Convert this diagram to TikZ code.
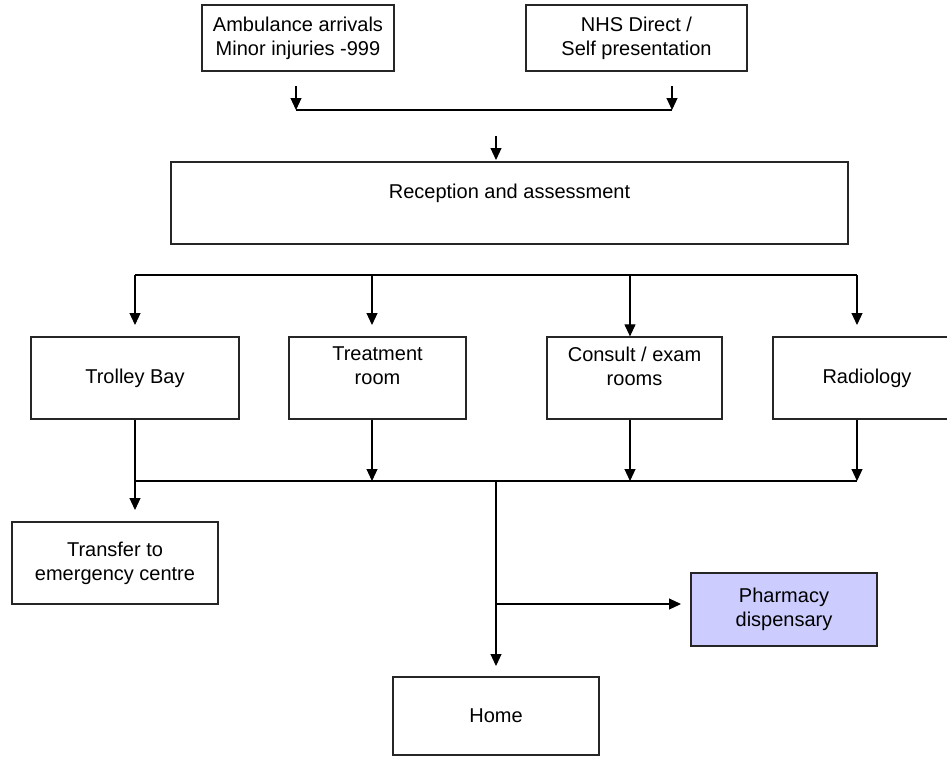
\documentclass[tikz,border=0pt]{standalone}
\usepackage{fontspec}
\setmainfont{Liberation Sans}
\usetikzlibrary{arrows.meta}
\definecolor{pharmfill}{HTML}{CCCCFF}
\begin{document}
\begin{tikzpicture}[x=1pt,y=-1pt,
  box/.style={draw=black!85, line width=1.25pt, align=center, inner sep=0pt,
    font=\fontsize{20}{24}\selectfont},
  conn/.style={draw=black, line width=1.05pt},
  arr/.style={conn, -{Triangle[length=12pt,width=11pt]}}]
\clip (0,0) rectangle (947,756);
\fill[white] (0,0) rectangle (947,756);

% boxes
\node[box, minimum width=192pt, minimum height=66pt] (amb) at (298,38) {Ambulance arrivals\\Minor injuries -999};
\node[box, minimum width=221pt, minimum height=66pt] (nhs) at (636.5,38) {NHS Direct /\\Self presentation};
\node[box, minimum width=677pt, minimum height=82pt] (rec) at (509.5,203) {Reception and assessment\\\mbox{}};
\node[box, minimum width=208pt, minimum height=82pt] (trol) at (135,378) {Trolley Bay};
\node[box, minimum width=177pt, minimum height=82pt] (treat) at (377.5,378) {Treatment\\room\\\mbox{}};
\node[box, minimum width=175pt, minimum height=82pt] (cons) at (634.5,378) {Consult / exam\\rooms\\\mbox{}};
\node[box, minimum width=188pt, minimum height=82pt] (rad) at (867,378) {Radiology};
\node[box, minimum width=206pt, minimum height=82pt] (trans) at (115,563) {Transfer to\\emergency centre};
\node[box, fill=pharmfill, minimum width=186pt, minimum height=73pt] (pharm) at (784,609.5) {Pharmacy\\dispensary};
\node[box, minimum width=206pt, minimum height=78pt] (home) at (496,716) {Home};

% junction coordinates
\coordinate (a1) at (296,86);  \coordinate (a2) at (296,110);
\coordinate (b1) at (672,86);  \coordinate (b2) at (672,110);
\coordinate (c1) at (496,136); \coordinate (c2) at (496,160);
\coordinate (t1) at (135,275); \coordinate (t2) at (372,275);
\coordinate (t3) at (630,275); \coordinate (t4) at (857,275);
\coordinate (u1) at (135,325); \coordinate (u2) at (372,325);
\coordinate (u4) at (857,325);
\coordinate (m1) at (135,481); \coordinate (m2) at (372,481);
\coordinate (m3) at (630,481); \coordinate (m4) at (857,481);
\coordinate (m0) at (496,481);
\coordinate (tt) at (135,510);
\coordinate (p)  at (496,604); \coordinate (ph) at (681,604);
\coordinate (hh) at (496,666);

% top inputs
\draw[arr] (a1) -- (a2);
\draw[arr] (b1) -- (b2);
\draw[conn] (a2) -- (b2);
\draw[arr] (c1) -- (c2);

% distribution bus
\draw[conn] (t1) -- (t4);
\draw[arr] (t1) -- (u1);
\draw[arr] (t2) -- (u2);
\draw[arr] (t3) -- (t3 |- cons.north);
\draw[arr] (t4) -- (u4);

% collection bus
\draw[conn] (m1) -- (m4);
\draw[arr] (trol.south) -- (tt);
\draw[arr] (treat.south -| t2) -- (m2);
\draw[arr] (cons.south -| t3) -- (m3);
\draw[arr] (rad.south -| t4) -- (m4);

% outputs
\draw[arr] (m0) -- (hh);
\draw[arr] (p) -- (ph);
\end{tikzpicture}
\end{document}
